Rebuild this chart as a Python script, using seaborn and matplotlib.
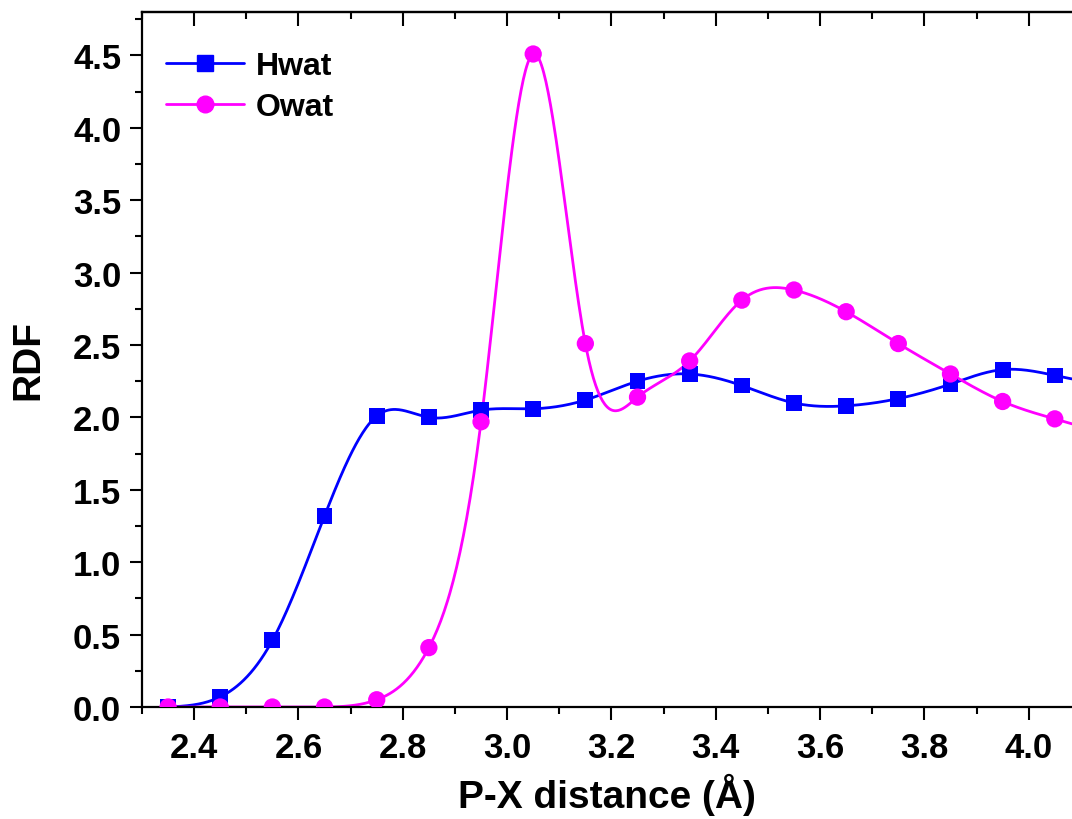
import numpy as np
import pandas as pd
import matplotlib
matplotlib.use("Agg")
import matplotlib.pyplot as plt
from matplotlib.lines import Line2D
from matplotlib.ticker import MultipleLocator
import seaborn as sns

# ---- data ----
distance = [2.35, 2.45, 2.55, 2.65, 2.75, 2.85, 2.95, 3.05, 3.15, 3.25,
            3.35, 3.45, 3.55, 3.65, 3.75, 3.85, 3.95, 4.05]
hwat = [0.00, 0.07, 0.46, 1.32, 2.01, 2.00, 2.05, 2.06, 2.12, 2.25,
        2.30, 2.22, 2.10, 2.08, 2.13, 2.23, 2.33, 2.29]
owat = [0.00, 0.00, 0.00, 0.00, 0.05, 0.41, 1.97, 4.51, 2.51, 2.14,
        2.39, 2.81, 2.88, 2.73, 2.51, 2.30, 2.11, 1.99]
series_names = ["Hwat", "Owat"]
colors = {"Hwat": "#0000FF", "Owat": "#FF00FF"}
markers = {"Hwat": "s", "Owat": "o"}
x_ticks = [2.4, 2.6, 2.8, 3.0, 3.2, 3.4, 3.6, 3.8, 4.0]
y_ticks = [0.0, 0.5, 1.0, 1.5, 2.0, 2.5, 3.0, 3.5, 4.0, 4.5]
XMIN, XMAX = 2.3, 4.083
YMIN, YMAX = 0.0, 4.8


def natural_spline(x, y, xs):
    """Natural cubic spline through (x, y), evaluated at xs (line rendering)."""
    x = np.asarray(x, float); y = np.asarray(y, float)
    n = len(x)
    h = np.diff(x)
    A = np.zeros((n, n)); r = np.zeros(n)
    A[0, 0] = A[-1, -1] = 1.0
    for i in range(1, n - 1):
        A[i, i - 1] = h[i - 1]
        A[i, i] = 2 * (h[i - 1] + h[i])
        A[i, i + 1] = h[i]
        r[i] = 6 * ((y[i + 1] - y[i]) / h[i] - (y[i] - y[i - 1]) / h[i - 1])
    M = np.linalg.solve(A, r)
    idx = np.clip(np.searchsorted(x, xs) - 1, 0, n - 2)
    x0, x1 = x[idx], x[idx + 1]
    hh = x1 - x0
    a = (x1 - xs) / hh; b = (xs - x0) / hh
    return (a * y[idx] + b * y[idx + 1]
            + ((a ** 3 - a) * M[idx] + (b ** 3 - b) * M[idx + 1]) * hh ** 2 / 6.0)


sns.set_theme(style="ticks")
plt.rcParams["font.family"] = ["Liberation Sans", "DejaVu Sans"]
plt.rcParams["font.weight"] = "bold"
plt.rcParams["text.color"] = "black"
plt.rcParams["axes.labelcolor"] = "black"
plt.rcParams["xtick.color"] = "black"
plt.rcParams["ytick.color"] = "black"

pts = pd.DataFrame({
    "distance": distance * 2,
    "RDF": hwat + owat,
    "series": ["Hwat"] * len(distance) + ["Owat"] * len(distance),
})

xs = np.linspace(distance[0], XMAX, 800)
curves = []
for name, vals in zip(series_names, [hwat, owat]):
    curves.append(pd.DataFrame({"distance": xs,
                                "RDF": natural_spline(distance, vals, xs),
                                "series": name}))
curves = pd.concat(curves, ignore_index=True)

fig = plt.figure(figsize=(10.72, 8.2), dpi=100)
ax = fig.add_axes([142 / 1072, 112 / 820, 1 - 142 / 1072, (708 - 13) / 820])

LW = 2.0
sns.lineplot(data=curves, x="distance", y="RDF", hue="series",
             palette=colors, linewidth=LW, legend=False, ax=ax,
             estimator=None, sort=False)
for name in series_names:
    sub = pts[pts["series"] == name]
    sns.scatterplot(data=sub, x="distance", y="RDF", color=colors[name],
                    marker=markers[name], s=130 if name == "Hwat" else 155,
                    edgecolor="none", legend=False, ax=ax, zorder=3)

ax.set_xlim(XMIN, XMAX)
ax.set_ylim(YMIN, YMAX)
ax.set_xticks(x_ticks)
ax.set_yticks(y_ticks)
ax.xaxis.set_minor_locator(MultipleLocator(0.1))
ax.yaxis.set_minor_locator(MultipleLocator(0.25))
ax.set_xticklabels([f"{v:.1f}" for v in x_ticks], fontsize=25, fontweight="bold")
ax.set_yticklabels([f"{v:.1f}" for v in y_ticks], fontsize=25, fontweight="bold")
ax.tick_params(axis="both", which="major", direction="out", length=9, width=1.5)
ax.tick_params(axis="both", which="minor", direction="out", length=5, width=1.5)
ax.tick_params(axis="x", which="major", pad=8)
ax.tick_params(axis="y", which="major", pad=6)

top = ax.secondary_xaxis("top")
top.set_xticks(x_ticks)
top.xaxis.set_minor_locator(MultipleLocator(0.1))
top.tick_params(axis="x", which="major", direction="in", length=10, width=1.5,
                labeltop=False)
top.tick_params(axis="x", which="minor", direction="in", length=5, width=1.5)
top.spines["top"].set_linewidth(1.6)

for s in ["left", "bottom", "top"]:
    ax.spines[s].set_visible(True)
    ax.spines[s].set_linewidth(1.6)
    ax.spines[s].set_color("black")
ax.spines["right"].set_visible(False)

ax.set_xlabel("P-X distance (Å)", fontsize=28, fontweight="bold", labelpad=7)
ax.set_ylabel("RDF", fontsize=28, fontweight="bold", labelpad=19)

handles = [Line2D([0], [0], color=colors[n], marker=markers[n], linewidth=LW,
                  markersize=11 if n == "Hwat" else 12) for n in series_names]
ax.legend(handles, series_names, loc="upper left", frameon=False,
          handlelength=2.45, handletextpad=0.35, labelspacing=0.35,
          borderaxespad=0.0, bbox_to_anchor=(0.012, 0.962),
          prop={"weight": "bold", "size": 23})

fig.savefig("out.png", dpi=100)
